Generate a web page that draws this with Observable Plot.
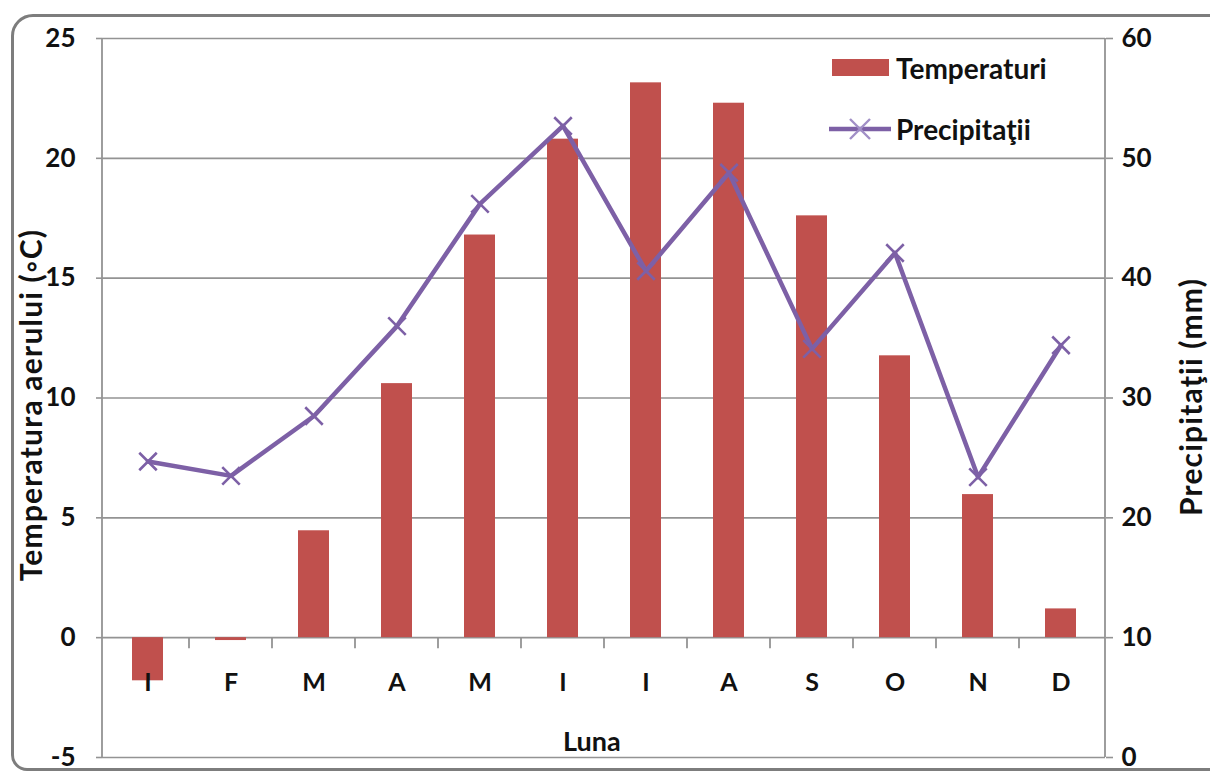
<!DOCTYPE html>
<html>
<head>
<meta charset="utf-8">
<script src="https://cdn.jsdelivr.net/npm/d3@7"></script>
<script src="https://cdn.jsdelivr.net/npm/@observablehq/plot@0.6"></script>
<style>
  html, body { margin: 0; padding: 0; background: #fff; }
  body { width: 1210px; height: 776px; overflow: hidden; position: relative; font-family: Lato, "Open Sans", sans-serif; }
  #frame { position: absolute; left: 11px; top: 14px; width: 1240px; height: 757px; border: 3px solid #7d7d7d; border-radius: 22px 0 0 16px; box-sizing: border-box; }
  #chart { position: absolute; left: 0; top: 0; }
  .title { position: absolute; font-weight: 700; color: #111; white-space: nowrap; transform-origin: center center; line-height: 1; }
  .legtext { position: absolute; font-weight: 700; font-size: 28px; color: #111; white-space: nowrap; line-height: 1; }
</style>
</head>
<body>
<div id="frame"></div>
<div id="chart"></div>
<script>
const months = ["I", "F", "M", "A", "M", "I", "I", "A", "S", "O", "N", "D"];
const temperature = [-1.8, -0.12, 4.46, 10.6, 16.8, 20.8, 23.15, 22.3, 17.6, 11.76, 5.97, 1.2];
const precipitation = [24.7, 23.5, 28.5, 36.0, 46.2, 52.7, 40.6, 48.8, 34.1, 42.1, 23.4, 34.4];
const tempTicks = [-5, 0, 5, 10, 15, 20, 25];
const precipTicks = [0, 10, 20, 30, 40, 50, 60];

const barColor = "#C0504D";
const lineColor = "#7D60A6";
const gridColor = "#939393";

// secondary axis: precipitation 0..60 maps onto temperature -5..25
const pToT = p => -5 + (p - precipTicks[0]) * (30 / (precipTicks[precipTicks.length - 1] - precipTicks[0]));
const tToP = t => precipTicks[0] + (t + 5) * ((precipTicks[precipTicks.length - 1] - precipTicks[0]) / 30);

const data = months.map((m, i) => ({ i, m, t: temperature[i], p: precipitation[i], pt: pToT(precipitation[i]) }));

// custom marks: axis lines and category boundary ticks
const axisLines = (index, scales, values, dims) => {
  const g = d3.create("svg:g");
  const x0 = dims.marginLeft, x1 = dims.width - dims.marginRight;
  const yTop = dims.marginTop, yBot = dims.height - dims.marginBottom;
  g.append("line").attr("x1", x0).attr("x2", x0).attr("y1", yTop).attr("y2", yBot).attr("stroke", gridColor).attr("stroke-width", 1.8);
  g.append("line").attr("x1", x1).attr("x2", x1).attr("y1", yTop).attr("y2", yBot).attr("stroke", gridColor).attr("stroke-width", 1.8);
  const y0 = scales.y(0);
  d3.range(1, months.length).forEach(k => {
    const xb = scales.x(k);
    g.append("line").attr("x1", xb).attr("x2", xb).attr("y1", y0).attr("y2", y0 + 11).attr("stroke", gridColor).attr("stroke-width", 1.8);
  });
  return g.node();
};

const chart = Plot.plot({
  width: 1210,
  height: 776,
  marginLeft: 102,
  marginRight: 105,
  marginTop: 38,
  marginBottom: 19,
  x: { type: "band", domain: d3.range(months.length), padding: 0 },
  y: { domain: [-5, 25] },
  style: { fontFamily: "Lato, 'Open Sans', sans-serif", background: "transparent", overflow: "visible" },
  marks: [
    Plot.ruleY(tempTicks, { stroke: gridColor, strokeWidth: 1.6 }),
    axisLines,
    Plot.barY(data, { x: "i", y: "t", fill: barColor, insetLeft: 26, insetRight: 26 }),
    Plot.line(data, { x: "i", y: "pt", stroke: lineColor, strokeWidth: 4.5 }),
    Plot.dot(data, { x: "i", y: "pt", symbol: "times", r: 8, stroke: lineColor, strokeWidth: 2.6 }),
    Plot.axisY({ anchor: "left", ticks: tempTicks, tickFormat: d => String(d), tickSize: 6, tickPadding: 21, stroke: gridColor, strokeWidth: 1.6, fontSize: 26, fontWeight: 700, fill: "#111", label: null }),
    Plot.axisY({ anchor: "right", ticks: tempTicks, tickFormat: t => String(tToP(t)), tickSize: 7, tickPadding: 9, stroke: gridColor, strokeWidth: 1.6, fontSize: 26, fontWeight: 700, fill: "#111", label: null }),
    Plot.text(data, { x: "i", y: 0, text: "m", dy: 45, fontSize: 25, fontWeight: 700, fill: "#111" }),
    Plot.axisX({ ticks: [], label: null })
  ]
});
document.getElementById("chart").appendChild(chart);

// titles and legend (HTML overlay)
function addDiv(cls, text, style) {
  const d = document.createElement("div");
  d.className = cls;
  d.textContent = text;
  Object.assign(d.style, style);
  document.body.appendChild(d);
  return d;
}
const leftTitle = addDiv("title", "Temperatura aerului (\u25E6C)", { fontSize: "30px", letterSpacing: "1.2px" });
const rightTitle = addDiv("title", "Precipitaţii (mm)", { fontSize: "30px", letterSpacing: "1.2px" });
const luna = addDiv("title", "Luna", { fontSize: "27px" });

function placeRotated(el, cx, cy) {
  const w = el.offsetWidth, h = el.offsetHeight;
  el.style.left = (cx - w / 2) + "px";
  el.style.top = (cy - h / 2) + "px";
  el.style.transform = "rotate(-90deg)";
}
placeRotated(leftTitle, 30, 405);
placeRotated(rightTitle, 1190, 397);
luna.style.left = (592 - luna.offsetWidth / 2) + "px";
luna.style.top = (740 - luna.offsetHeight / 2) + "px";

// legend
const leg = d3.select("body").append("svg")
  .style("position", "absolute").style("left", "0px").style("top", "0px")
  .attr("width", 1210).attr("height", 200).style("pointer-events", "none");
leg.append("rect").attr("x", 832).attr("y", 59).attr("width", 57).attr("height", 17).attr("fill", barColor);
leg.append("line").attr("x1", 829).attr("x2", 891).attr("y1", 129).attr("y2", 129).attr("stroke", lineColor).attr("stroke-width", 4.5);
leg.append("path").attr("d", "M850,119L870,139M850,139L870,119").attr("stroke", "#a18fc6").attr("stroke-width", 2.4).attr("fill", "none");
const l1 = addDiv("legtext", "Temperaturi", {});
l1.style.left = "896px"; l1.style.top = (68 - l1.offsetHeight / 2) + "px";
const l2 = addDiv("legtext", "Precipitaţii", {});
l2.style.left = "896px"; l2.style.top = (129 - l2.offsetHeight / 2) + "px";
</script>
</body>
</html>
